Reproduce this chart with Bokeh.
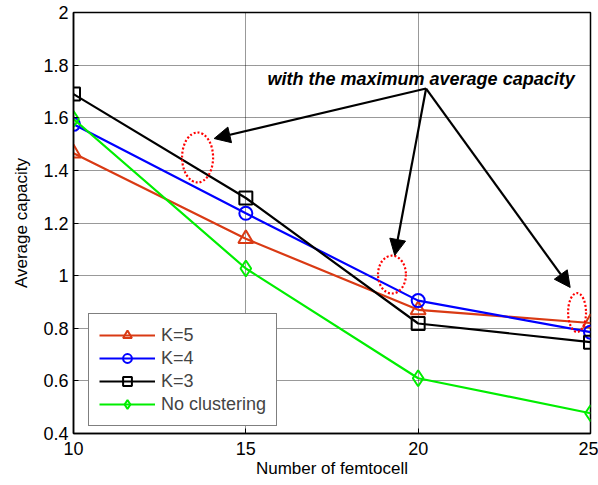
from bokeh.plotting import figure
from bokeh.models import (FixedTicker, Arrow, NormalHead, Legend, LegendItem, Label)
from bokeh.embed import file_html
from bokeh.resources import INLINE

# ---- data ----
femtocells = [10, 15, 20, 25]
k5 = [1.465, 1.14, 0.87, 0.82]
k4 = [1.575, 1.237, 0.905, 0.785]
k3 = [1.69, 1.295, 0.818, 0.747]
no_clustering = [1.595, 1.027, 0.61, 0.477]
series_names = ["K=5", "K=4", "K=3", "No clustering"]
x_ticks = [10, 15, 20, 25]
y_ticks = [0.4, 0.6, 0.8, 1.0, 1.2, 1.4, 1.6, 1.8, 2.0]
y_tick_labels = ["0.4", "0.6", "0.8", "1", "1.2", "1.4", "1.6", "1.8", "2"]
annotation_text = "with the maximum average capacity"

FONT = "Liberation Sans"
RED = "#d93a14"

p = figure(width=598, height=485, output_backend="svg", toolbar_location=None,
           x_range=(10, 25), y_range=(0.4, 2.0),
           min_border_left=73, min_border_right=8, min_border_top=12, min_border_bottom=52)
p.background_fill_color = "white"
p.border_fill_color = "white"
p.outline_line_color = "black"
p.outline_line_width = 1.5

for ax in (p.xaxis[0], p.yaxis[0]):
    ax.axis_line_color = "black"
    ax.axis_line_width = 1.5
    ax.major_tick_in = 5
    ax.major_tick_out = 0
    ax.minor_tick_line_color = None
    ax.major_label_text_font = FONT
    ax.major_label_text_font_size = "18px"
    ax.major_label_text_color = "black"
    ax.axis_label_text_font = FONT
    ax.axis_label_text_font_size = "17px"
    ax.axis_label_text_font_style = "normal"
    ax.axis_label_text_color = "black"

p.xaxis.ticker = FixedTicker(ticks=x_ticks)
p.yaxis.ticker = FixedTicker(ticks=y_ticks)
p.yaxis.major_label_overrides = {t: l for t, l in zip(y_ticks, y_tick_labels)}
p.xaxis.axis_label = "Number of femtocell"
p.yaxis.axis_label = "Average capacity"
p.xaxis.major_label_standoff = 8
p.xaxis.axis_label_standoff = 1
p.yaxis.major_label_standoff = 5
p.yaxis.axis_label_standoff = 9

p.xgrid.ticker = FixedTicker(ticks=x_ticks)
p.ygrid.ticker = FixedTicker(ticks=y_ticks)
for g in (p.xgrid, p.ygrid):
    g.grid_line_color = "black"
    g.grid_line_dash = "1 1"
    g.grid_line_width = 1
    g.grid_line_alpha = 0.8

items = []
specs = [
    (k5, RED, "triangle", 15),
    (k4, "#0000ff", "circle", 13),
    (k3, "black", "square", 13),
    (no_clustering, "#00ee00", "diamond", 16),
]
for (ys, color, marker, size), name in zip(specs, series_names):
    r1 = p.line(femtocells, ys, line_color=color, line_width=2.2)
    r2 = p.scatter(femtocells, ys, marker=marker, size=size, line_color=color,
                   line_width=2, fill_color=None)
    items.append(LegendItem(label=name, renderers=[r1, r2]))

# annotation ellipses (dotted red)
p.ellipse(x=[13.60, 19.24, 24.61], y=[1.449, 1.004, 0.86],
          width=[0.90, 0.81, 0.52], height=[0.19, 0.144, 0.148],
          fill_color=None, line_color="red", line_width=2.2, line_dash="2 2")

# arrows
x0, y0 = 20.23, 1.711
for xe, ye in [(14.08, 1.521), (19.32, 1.077), (24.41, 0.955)]:
    p.add_layout(Arrow(x_start=x0, y_start=y0, x_end=xe, y_end=ye,
                       line_color="black", line_width=2.2,
                       end=NormalHead(size=16, fill_color="black", line_color="black")))

p.add_layout(Label(x=15.63, y=1.749, text=annotation_text, text_font=FONT,
                   text_font_size="18px", text_font_style="bold italic",
                   text_baseline="middle", text_align="left", text_color="black"))

legend = Legend(items=items, location=(15, 7))
legend.border_line_color = "black"
legend.border_line_width = 1.5
legend.background_fill_color = "white"
legend.background_fill_alpha = 1
legend.label_text_font = FONT
legend.label_text_font_size = "18px"
legend.glyph_width = 56
legend.glyph_height = 22
legend.label_height = 22
legend.label_standoff = 6
legend.spacing = 1
legend.padding = 10
legend.margin = 0
p.add_layout(legend, "center")

open("out.html", "w").write(file_html(p, INLINE))
